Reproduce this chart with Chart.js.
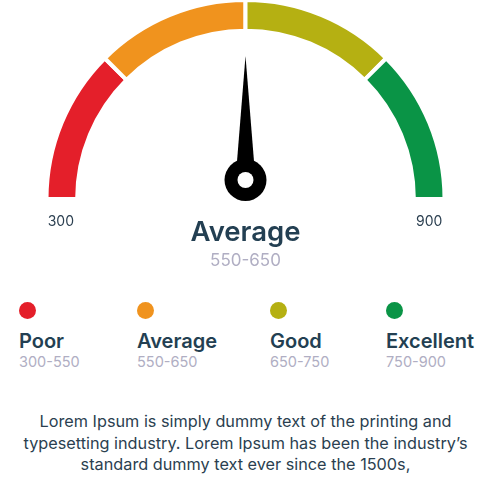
<!DOCTYPE html>
<html>
<head>
<meta charset="utf-8">
<script src="https://cdn.jsdelivr.net/npm/chart.js@4.4.1/dist/chart.umd.min.js"></script>
<style>
  html, body { margin: 0; padding: 0; background: #ffffff; }
  body { width: 491px; height: 479px; position: relative; overflow: hidden; font-family: Inter, "Noto Sans", sans-serif; }
  #gauge { position: absolute; left: 0; top: 0; }
  .abs { position: absolute; line-height: 1; white-space: nowrap; }
  #curLabel { left: 0; width: 491px; text-align: center; top: 218px; font-size: 27.5px; font-weight: 600; color: #233f52; }
  #curRange { left: 0; width: 491px; text-align: center; top: 252px; font-size: 17px; color: #b0aec3; }
  .dot { position: absolute; width: 17px; height: 17px; border-radius: 50%; top: 302px; }
  .lname { position: absolute; top: 331px; font-size: 20px; font-weight: 600; color: #233f52; line-height: 1; white-space: nowrap; }
  .lrange { position: absolute; top: 355px; font-size: 14.5px; color: #b0aec3; line-height: 1; white-space: nowrap; }
  #para { position: absolute; left: 0; width: 491px; top: 411px; text-align: center; font-size: 16.25px; line-height: 21.5px; color: #2b3f50; }
</style>
</head>
<body>
<canvas id="gauge" width="491" height="240"></canvas>
<div id="curLabel" class="abs"></div>
<div id="curRange" class="abs"></div>
<div id="legend"></div>
<div id="para">Lorem Ipsum is simply dummy text of the printing and<br>typesetting industry. Lorem Ipsum has been the industry’s<br>standard dummy text ever since the 1500s,</div>
<script>
// ---- data ----
const categories = ['Poor', 'Average', 'Good', 'Excellent'];
const ranges = ['300-550', '550-650', '650-750', '750-900'];
const segmentSizes = [1, 1, 1, 1];           // the four arcs are drawn equal in the picture
const colors = ['#e41f2a', '#f0931e', '#b5b012', '#0a9446'];
const scaleMin = 300;
const scaleMax = 900;
const tickLabels = ['300', '900'];
const needleValue = 600;
const currentIndex = 1;                        // "Average"

// ---- text ----
document.getElementById('curLabel').textContent = categories[currentIndex];
document.getElementById('curRange').textContent = ranges[currentIndex];
const legendLeft = [19, 137, 270, 386];
const legend = document.getElementById('legend');
categories.forEach((c, i) => {
  const d = document.createElement('div'); d.className = 'dot';
  d.style.left = legendLeft[i] + 'px'; d.style.background = colors[i];
  legend.appendChild(d);
  const n = document.createElement('div'); n.className = 'lname';
  n.style.left = legendLeft[i] + 'px'; n.textContent = c; legend.appendChild(n);
  const r = document.createElement('div'); r.className = 'lrange';
  r.style.left = legendLeft[i] + 'px'; r.textContent = ranges[i]; legend.appendChild(r);
});

// ---- needle + end labels plugin ----
const gaugeExtras = {
  id: 'gaugeExtras',
  afterDatasetsDraw(chart) {
    const meta = chart.getDatasetMeta(0);
    const first = meta.data[0], last = meta.data[meta.data.length - 1];
    const cx = first.x, cy = first.y;
    const outer = first.outerRadius, inner = first.innerRadius;
    const a0 = first.startAngle, a1 = last.endAngle;
    const ctx = chart.ctx;
    ctx.save();
    // end labels
    ctx.font = '14px Inter, "Noto Sans", sans-serif';
    ctx.fillStyle = '#2b3f50';
    ctx.textAlign = 'center';
    ctx.textBaseline = 'alphabetic';
    const mid = (outer + inner) / 2;
    ctx.fillText(tickLabels[0], cx + Math.cos(a0) * mid - 1, cy + 27);
    ctx.fillText(tickLabels[1], cx + Math.cos(a1) * mid, cy + 27);
    // needle
    const ang = a0 + (needleValue - scaleMin) / (scaleMax - scaleMin) * (a1 - a0);
    const hx = cx, hy = cy - 19;
    const len = 124, hw = 10;
    ctx.fillStyle = '#000000';
    ctx.beginPath();
    ctx.moveTo(hx + Math.cos(ang) * len, hy + Math.sin(ang) * len);
    ctx.lineTo(hx + Math.cos(ang + Math.PI / 2) * hw, hy + Math.sin(ang + Math.PI / 2) * hw);
    ctx.lineTo(hx + Math.cos(ang - Math.PI / 2) * hw, hy + Math.sin(ang - Math.PI / 2) * hw);
    ctx.closePath();
    ctx.fill();
    ctx.beginPath();
    ctx.arc(hx, hy, 21, 0, Math.PI * 2);
    ctx.fill();
    ctx.fillStyle = '#ffffff';
    ctx.beginPath();
    ctx.arc(hx, hy, 8, 0, Math.PI * 2);
    ctx.fill();
    ctx.restore();
  }
};

new Chart(document.getElementById('gauge'), {
  type: 'doughnut',
  data: {
    labels: categories,
    datasets: [{
      data: segmentSizes,
      backgroundColor: colors,
      borderColor: '#ffffff',
      borderWidth: 4,
      hoverOffset: 0
    }]
  },
  options: {
    responsive: false,
    animation: false,
    rotation: -90,
    circumference: 180,
    radius: 199,
    cutout: '84.6%',
    layout: { padding: { top: 0, left: 0, right: 0, bottom: 41 } },
    plugins: { legend: { display: false }, tooltip: { enabled: false } },
    events: []
  },
  plugins: [gaugeExtras]
});
</script>
</body>
</html>
